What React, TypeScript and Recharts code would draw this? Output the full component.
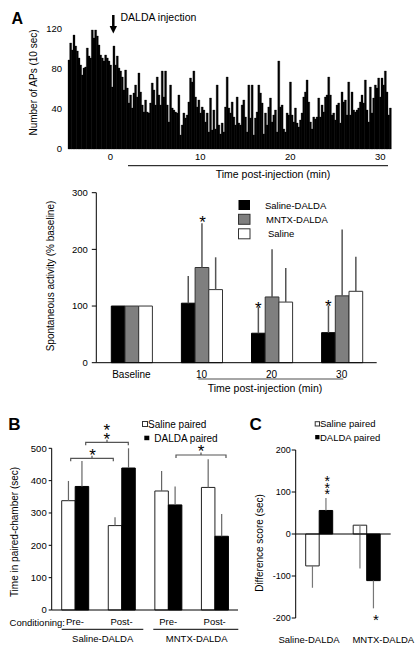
import React from "react";
import { BarChart, Bar, XAxis, YAxis, ErrorBar, ReferenceLine } from "recharts";

const FONT = '"Liberation Sans", Arial, sans-serif';

// A (top): action potentials per 10 s bin, read left to right
const apCounts = [
  89, 106, 99, 114, 103, 98, 91, 84, 74, 81, 82, 101, 93, 91, 119, 111, 119, 113, 104, 94,
  91, 88, 94, 91, 88, 84, 62, 103, 84, 93, 81, 78, 72, 59, 79, 61, 46, 54, 41, 56,
  64, 52, 76, 57, 44, 37, 49, 37,
  36, 46, 66, 59, 44, 72, 54, 44, 78, 52, 78, 44, 27, 64, 41, 39, 37, 36, 54, 14,
  24, 36, 31, 34, 47, 71, 67, 78, 52, 42, 49, 36, 42, 39, 27, 36, 17, 51, 19, 39,
  20, 64, 24, 15, 26, 17, 42, 72, 41,
  36, 47, 32, 24, 52, 26, 24, 44, 49, 32, 17, 64, 31, 64, 14, 31, 37, 64, 56, 46,
  15, 36, 24, 42, 51, 27, 34, 39, 17, 88, 42, 44, 20, 17, 36, 34, 67, 34, 27, 41,
  26, 22, 29, 36, 52, 57, 69, 47, 27,
  20, 32, 30, 32, 51, 32, 44, 37, 52, 54, 72, 54, 34, 36, 29, 44, 46, 26, 57, 47,
  49, 34, 67, 34, 57, 39, 37, 39, 41, 47, 54, 46, 69, 39, 27, 62, 36, 51, 64, 61,
  71, 52, 71, 64, 78, 57, 34, 41,
];
const HIST_START = -4.7; // min, left edge of first bin
const HIST_END = 31.2;
const BIN_WIDTH = (HIST_END - HIST_START) / apCounts.length;
const histTicks = [0, 10, 20, 30];
const apTicks = [0, 40, 80, 120];

// A (bottom): spontaneous activity, % baseline
const periods = ["Baseline", "10", "20", "30"];
const salineDalda = [100, 105, 52, 53];
const salineDaldaErr = [0, 48, 46, 48];
const mntxDalda = [100, 168, 116, 118];
const mntxDaldaErr = [0, 78, 84, 117];
const salineOnly = [100, 129, 107, 126];
const salineOnlyErr = [0, 57, 60, 61];
const spontTicks = [0, 100, 200, 300];

// B: time in paired chamber (sec)
const conditions = ["SD-Pre", "SD-Post", "MD-Pre", "MD-Post"];
const conditionLabels = ["Pre-", "Post-", "Pre-", "Post-"];
const salinePaired = [338, 261, 368, 379];
const salinePairedErr = [61, 26, 62, 87];
const daldaPaired = [382, 439, 325, 228];
const daldaPairedErr = [79, 61, 57, 69];
const timeTicks = [0, 100, 200, 300, 400, 500];

// C: difference score (sec), error as [down, up]
const groups = ["Saline-DALDA", "MNTX-DALDA"];
const salineDiff = [-76, 21];
const salineDiffErr = [[52, 0], [103, 0]];
const daldaDiff = [56, -111];
const daldaDiffErr = [[0, 30], [66, 0]];
const diffTicks = [-200, -100, 0, 100, 200];

const histData = apCounts.map((n, i) => ({ bin: i, n }));
// bin whose centre is closest to each labelled minute
const tickBins = histTicks.map((t) => Math.round((t - HIST_START) / BIN_WIDTH - 0.5));
const binLabel = (bin: number) => {
  const k = tickBins.indexOf(bin);
  return k >= 0 ? String(histTicks[k]) : "";
};

const spontData = periods.map((p, i) => ({
  p,
  sd: salineDalda[i], sdE: [0, salineDaldaErr[i]],
  md: mntxDalda[i], mdE: [0, mntxDaldaErr[i]],
  s: salineOnly[i], sE: [0, salineOnlyErr[i]],
}));
const cppData = conditions.map((c, i) => ({
  c,
  sal: salinePaired[i], salE: [0, salinePairedErr[i]],
  dal: daldaPaired[i], dalE: [0, daldaPairedErr[i]],
}));
const diffData = groups.map((g, i) => ({
  g,
  sal: salineDiff[i], salE: salineDiffErr[i],
  dal: daldaDiff[i], dalE: daldaDiffErr[i],
}));

const tick = (size: number) => ({ fill: "#000", fontSize: size, fontFamily: FONT });

// stacked asterisks go in one text element
function Stars({ x, y, n = 1, size = 17, gap = 8 }: { x: number; y: number; n?: number; size?: number; gap?: number }) {
  return (
    <text x={x} y={y + size * 0.57} fontSize={size} textAnchor="middle" fill="#000">
      {Array.from({ length: n }, (_, i) => (
        <tspan key={i} x={x} dy={i === 0 ? 0 : gap}>*</tspan>
      ))}
    </text>
  );
}

function Bracket({ x1, x2, y }: { x1: number; x2: number; y: number }) {
  const m = (x1 + x2) / 2;
  return (
    <path
      d={`M${x1} ${y + 3} L${x1} ${y} L${x2} ${y} L${x2} ${y + 3} M${m} ${y} L${m} ${y - 2.5}`}
      stroke="#555" strokeWidth={1.2} fill="none"
    />
  );
}

function VLabel({ x, y, text, size = 10 }: { x: number; y: number; text: string; size?: number }) {
  return (
    <text x={x} y={y} fontSize={size} textAnchor="middle" dominantBaseline="central"
      transform={`rotate(-90 ${x} ${y})`} fill="#000">{text}</text>
  );
}

function Overlay() {
  return (
    <svg width={419} height={652} style={{ position: "absolute", left: 0, top: 0, pointerEvents: "none" }}
      fontFamily={FONT}>
      {/* panel A, histogram */}
      <text x={11.5} y={23.5} fontSize={16} fontWeight="bold">A</text>
      <text x={120.5} y={20.8} fontSize={10.5}>DALDA injection</text>
      <line x1={113.3} y1={15} x2={113.3} y2={28} stroke="#000" strokeWidth={2.5} />
      <path d="M109.6 26 L117 26 L113.3 33.5 Z" fill="#000" />
      <VLabel x={33.5} y={82.5} text="Number of APs (10 sec)" />
      <line x1={128} x2={388} y1={165.7} y2={165.7} stroke="#000" strokeWidth={1} />
      <text x={273} y={177.5} fontSize={10.5} textAnchor="middle">Time post-injection (min)</text>

      {/* panel A, % baseline */}
      <VLabel x={50} y={276} text="Spontaneous activity (% baseline)" />
      <rect x={238.5} y={200} width={11.5} height={10} fill="#000" />
      <rect x={238.5} y={214.3} width={11.5} height={10} fill="#7f7f7f" stroke="#333" />
      <rect x={238.5} y={228.8} width={11.5} height={10} fill="#fff" stroke="#333" />
      <text x={265} y={208.5} fontSize={9.5}>Saline-DALDA</text>
      <text x={266} y={222.8} fontSize={9.5}>MNTX-DALDA</text>
      <text x={268} y={236.8} fontSize={9.5}>Saline</text>
      <Stars x={202.5} y={218} />
      <Stars x={258.3} y={304} />
      <Stars x={328.3} y={302.5} />
      <line x1={198.3} x2={343.3} y1={379} y2={379} stroke="#888" strokeWidth={1.5} />
      <text x={265} y={391.5} fontSize={10.5} textAnchor="middle">Time post-injection (min)</text>

      {/* panel B */}
      <text x={8.3} y={429.5} fontSize={17} fontWeight="bold">B</text>
      <rect x={142.5} y={421.5} width={5} height={5} fill="#fff" stroke="#333" />
      <text x={148} y={427.8} fontSize={10}>Saline paired</text>
      <rect x={144.3} y={435.7} width={5} height={4.5} fill="#000" />
      <text x={154.3} y={441.8} fontSize={10}>DALDA paired</text>
      <VLabel x={14.3} y={532} text="Time in paired-chamber (sec)" />
      <Bracket x1={70.7} x2={113.3} y={458.3} />
      <Stars x={92.5} y={451.5} />
      <Bracket x1={85.7} x2={128.3} y={442.3} />
      <Stars x={106.7} y={426.7} n={2} gap={8.3} />
      <Bracket x1={176} x2={226} y={455} />
      <Stars x={201} y={447.3} />
      <text x={65} y={625.6} fontSize={9.5} textAnchor="end">Conditioning:</text>
      <line x1={61.7} x2={143.3} y1={629.3} y2={629.3} stroke="#000" />
      <line x1={153.3} x2={238.3} y1={629.3} y2={629.3} stroke="#000" />
      <text x={102.7} y={641.6} fontSize={9.5} textAnchor="middle">Saline-DALDA</text>
      <text x={196.7} y={641.6} fontSize={9.5} textAnchor="middle">MNTX-DALDA</text>

      {/* panel C */}
      <text x={249.5} y={430} fontSize={17} fontWeight="bold">C</text>
      <rect x={315.2} y={421.7} width={4.3} height={4.3} fill="#fff" stroke="#333" />
      <text x={320} y={427.2} fontSize={9.5}>Saline paired</text>
      <rect x={315.2} y={435} width={4.3} height={4.3} fill="#000" />
      <text x={320} y={440.5} fontSize={9.5}>DALDA paired</text>
      <VLabel x={259.3} y={543} text="Difference score (sec)" />
      <Stars x={327.3} y={478.5} n={3} size={14} gap={6.5} />
      <Stars x={376} y={616} size={15} />
      <text x={309} y={643.3} fontSize={9.5} textAnchor="middle">Saline-DALDA</text>
      <text x={383.3} y={643.3} fontSize={9.5} textAnchor="middle">MNTX-DALDA</text>
    </svg>
  );
}

export default function App() {
  return (
    <div style={{ position: "absolute", left: 0, top: 0, width: 419, height: 652, background: "#fff", fontFamily: FONT }}>
      <div style={{ position: "absolute", left: 0, top: 0 }}>
        <BarChart width={419} height={165} data={histData} margin={{ top: 29, right: 28, bottom: 0, left: 0 }}
          barCategoryGap={0} barGap={0}>
          <XAxis dataKey="bin" type="category" ticks={tickBins} interval={0} tickFormatter={binLabel}
            axisLine={false} tickLine={false} tickSize={2} tickMargin={2} height={16} tick={tick(9.5)} />
          <YAxis domain={[0, 120]} ticks={apTicks} width={68} axisLine={false} tickLine={false}
            tickSize={4} tickMargin={2} tick={tick(9.5)} />
          <Bar dataKey="n" fill="#000" stroke="#000" strokeWidth={0.3} isAnimationActive={false} />
        </BarChart>
      </div>

      <div style={{ position: "absolute", left: 0, top: 180 }}>
        <BarChart width={419} height={200} data={spontData} margin={{ top: 12.7, right: 42.3, bottom: 0.3, left: 0 }}
          barGap={0}>
          <XAxis dataKey="p" height={17} interval={0} axisLine={{ stroke: "#000" }} tickLine={false}
            tickSize={6} tickMargin={2} tick={tick(10)} />
          <YAxis domain={[0, 300]} ticks={spontTicks} width={96.3} axisLine={{ stroke: "#000" }}
            tickLine={{ stroke: "#000" }} tickSize={4.5} tickMargin={4} tick={tick(9.5)} />
          <Bar dataKey="sd" fill="#000" stroke="#000" barSize={13.7} isAnimationActive={false}>
            <ErrorBar dataKey="sdE" width={0} stroke="#555" strokeWidth={1.5} direction="y" />
          </Bar>
          <Bar dataKey="md" fill="#7f7f7f" stroke="#333" barSize={13.7} isAnimationActive={false}>
            <ErrorBar dataKey="mdE" width={0} stroke="#555" strokeWidth={1.5} direction="y" />
          </Bar>
          <Bar dataKey="s" fill="#fff" stroke="#333" barSize={13.7} isAnimationActive={false}>
            <ErrorBar dataKey="sE" width={0} stroke="#555" strokeWidth={1.5} direction="y" />
          </Bar>
        </BarChart>
      </div>

      <div style={{ position: "absolute", left: 0, top: 430 }}>
        <BarChart width={260} height={200} data={cppData} margin={{ top: 18.3, right: 22, bottom: 0, left: 0 }}
          barGap={0}>
          <XAxis dataKey="c" height={20} interval={0} axisLine={{ stroke: "#000" }} tickLine={false}
            tickSize={6} tickMargin={2} tick={tick(9.5)} tickFormatter={(_v: string, i: number) => conditionLabels[i]} />
          <YAxis domain={[0, 500]} ticks={timeTicks} width={51.7} axisLine={{ stroke: "#000" }}
            tickLine={{ stroke: "#000" }} tickSize={3} tickMargin={2} tick={tick(9.5)} />
          <Bar dataKey="sal" fill="#fff" stroke="#222" barSize={13.5} isAnimationActive={false}>
            <ErrorBar dataKey="salE" width={0} stroke="#666" strokeWidth={1.2} direction="y" />
          </Bar>
          <Bar dataKey="dal" fill="#000" stroke="#000" barSize={13.5} isAnimationActive={false}>
            <ErrorBar dataKey="dalE" width={0} stroke="#666" strokeWidth={1.2} direction="y" />
          </Bar>
        </BarChart>
      </div>

      <div style={{ position: "absolute", left: 260, top: 430 }}>
        <BarChart width={159} height={200} data={diffData} margin={{ top: 20, right: 28.3, bottom: 12, left: 0 }}
          barGap={0}>
          <XAxis dataKey="g" hide />
          <YAxis domain={[-200, 200]} ticks={diffTicks} width={35.7} axisLine={{ stroke: "#000" }}
            tickLine={{ stroke: "#000" }} tickSize={4} tickMargin={1} tick={tick(9)} />
          <Bar dataKey="sal" fill="#fff" stroke="#222" barSize={13.5} isAnimationActive={false}>
            <ErrorBar dataKey="salE" width={0} stroke="#777" strokeWidth={1.2} direction="y" />
          </Bar>
          <Bar dataKey="dal" fill="#000" stroke="#000" barSize={13.5} isAnimationActive={false}>
            <ErrorBar dataKey="dalE" width={0} stroke="#777" strokeWidth={1.2} direction="y" />
          </Bar>
          <ReferenceLine y={0} stroke="#000" />
        </BarChart>
      </div>

      <Overlay />
    </div>
  );
}
